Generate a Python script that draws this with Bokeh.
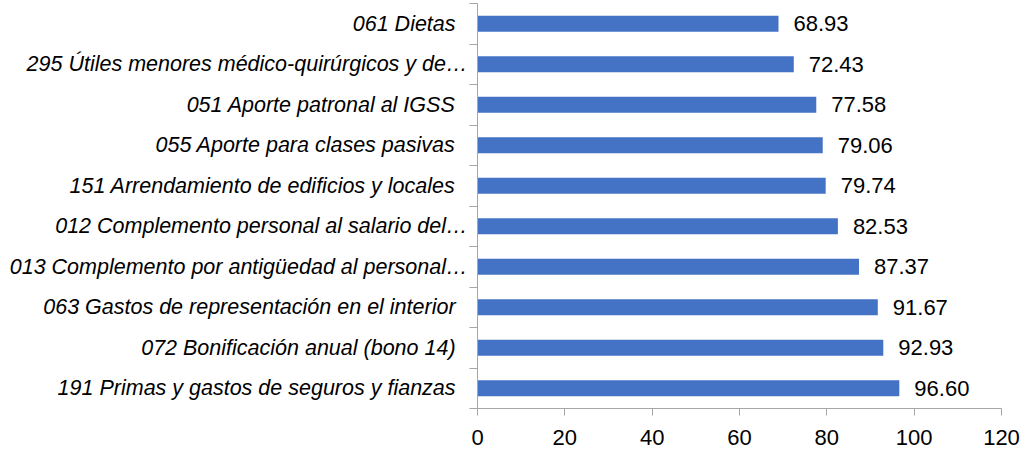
from bokeh.plotting import figure
from bokeh.models import ColumnDataSource, FixedTicker, Range1d
from bokeh.core.properties import value
from bokeh.embed import file_html
from bokeh.resources import INLINE

categories = [
    "061 Dietas",
    "295 Útiles menores médico-quirúrgicos y de…",
    "051 Aporte patronal al IGSS",
    "055 Aporte para clases pasivas",
    "151 Arrendamiento de edificios y locales",
    "012 Complemento personal al salario del…",
    "013 Complemento por antigüedad al personal…",
    "063 Gastos de representación en el interior",
    "072 Bonificación anual (bono 14)",
    "191 Primas y gastos de seguros y fianzas",
]
values = [68.93, 72.43, 77.58, 79.06, 79.74, 82.53, 87.37, 91.67, 92.93, 96.60]
x_ticks = [0, 20, 40, 60, 80, 100, 120]

AXIS_FONT = "Liberation Sans"
FONT = value(AXIS_FONT)
n = len(categories)
ypos = [n - 1 - i + 0.5 for i in range(n)]
labels = ["%.2f" % v for v in values]
# truncated (ellipsis) labels sit flush against the axis, the others keep padding
PAD = "\u00a0\u00a0"
cat_text = [c if c.endswith("…") else c + PAD for c in categories]

src = ColumnDataSource(dict(y=ypos, v=values, lab=labels, cat=categories))

p = figure(width=1022, height=452, output_backend="svg", toolbar_location=None,
           x_range=Range1d(0, 120), y_range=Range1d(0, n),
           min_border_left=477, min_border_right=21, min_border_top=3, min_border_bottom=44)
p.outline_line_color = None
p.grid.visible = False

p.hbar(y="y", right="v", left=0, height=0.40, source=src, fill_color="#4472C4", line_color=None)
p.text(x="v", y="y", text="lab", source=src, x_offset=15, text_baseline="middle",
       text_align="left", text_font=FONT, text_font_size="22px", text_color="#000000")

xa = p.xaxis[0]
xa.ticker = FixedTicker(ticks=x_ticks)
xa.axis_line_color = "#A6A6A6"
xa.major_tick_line_color = "#A6A6A6"
xa.major_tick_out = 7
xa.major_tick_in = 0
xa.minor_tick_line_color = None
xa.major_label_text_font = AXIS_FONT
xa.major_label_text_font_size = "22px"
xa.major_label_text_color = "#000000"
xa.major_label_standoff = 14

ya = p.yaxis[0]
ya.ticker = FixedTicker(ticks=ypos, minor_ticks=list(range(n + 1)))
ya.major_label_overrides = {y: c for y, c in zip(ypos, cat_text)}
ya.axis_line_color = "#A6A6A6"
ya.major_tick_line_color = None
ya.major_tick_out = 0
ya.major_tick_in = 0
ya.minor_tick_line_color = "#A6A6A6"
ya.minor_tick_out = 8
ya.minor_tick_in = 0
ya.major_label_text_font = AXIS_FONT
ya.major_label_text_font_size = "21.5px"
ya.major_label_text_font_style = "italic"
ya.major_label_text_color = "#000000"
ya.major_label_standoff = 2

open("out.html", "w").write(file_html(p, INLINE))
